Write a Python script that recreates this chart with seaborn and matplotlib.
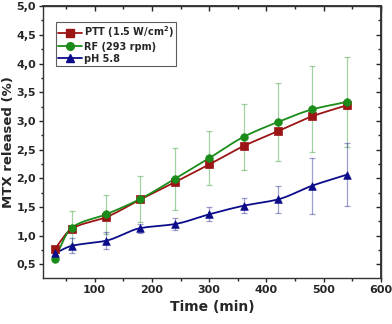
import numpy as np
import pandas as pd
import matplotlib
matplotlib.use("Agg")
import matplotlib.pyplot as plt
import seaborn as sns
from matplotlib.ticker import MultipleLocator, FuncFormatter

time = [30, 60, 120, 180, 240, 300, 360, 420, 480, 540]
ptt = [0.76, 1.12, 1.32, 1.63, 1.93, 2.24, 2.56, 2.82, 3.08, 3.27]
ptt_err = [0.04, 0.04, 0.05, 0.05, 0.05, 0.05, 0.05, 0.05, 0.05, 0.06]
rf = [0.59, 1.14, 1.37, 1.64, 1.99, 2.35, 2.72, 2.98, 3.20, 3.33]
rf_err = [0.03, 0.28, 0.34, 0.40, 0.54, 0.47, 0.58, 0.68, 0.75, 0.79]
ph = [0.69, 0.82, 0.91, 1.13, 1.20, 1.37, 1.52, 1.63, 1.87, 2.06]
ph_err = [0.05, 0.13, 0.15, 0.08, 0.10, 0.12, 0.13, 0.24, 0.49, 0.55]
labels = ["PTT (1.5 W/cm$^2$)", "RF (293 rpm)", "pH 5.8"]

sns.set_theme(style="ticks")
plt.rcParams['font.family'] = ['DejaVu Sans']
plt.rcParams['font.weight'] = 'bold'

fig = plt.figure(figsize=(3.92, 3.24), dpi=100)
ax = fig.add_axes([0.110, 0.142, 0.862, 0.839])

series = [
    (ptt, ptt_err, labels[0], "#9b1515", "s"),
    (rf, rf_err, labels[1], "#1a8c1a", "o"),
    (ph, ph_err, labels[2], "#0c0c8a", "^"),
]

def smooth(x, y):
    x = np.asarray(x, float); y = np.asarray(y, float)
    m = np.zeros_like(y)
    d = np.diff(y) / np.diff(x)
    m[0] = d[0]; m[-1] = d[-1]
    for i in range(1, len(x) - 1):
        if d[i-1] * d[i] <= 0:
            m[i] = 0
        else:
            w1 = 2 * (x[i+1] - x[i]) + (x[i] - x[i-1])
            w2 = (x[i+1] - x[i]) + 2 * (x[i] - x[i-1])
            m[i] = (w1 + w2) / (w1 / d[i-1] + w2 / d[i])
    xs, ys = [], []
    for i in range(len(x) - 1):
        h = x[i+1] - x[i]
        t = np.linspace(0, 1, 30, endpoint=(i == len(x) - 2))
        h00 = 2*t**3 - 3*t**2 + 1; h10 = t**3 - 2*t**2 + t
        h01 = -2*t**3 + 3*t**2; h11 = t**3 - t**2
        xs.append(x[i] + t*h)
        ys.append(h00*y[i] + h10*h*m[i] + h01*y[i+1] + h11*h*m[i+1])
    return np.concatenate(xs), np.concatenate(ys)

for vals, err, lab, col, mk in series:
    ax.errorbar(time, vals, yerr=err, fmt="none", ecolor=col, alpha=0.4,
                elinewidth=0.9, capsize=2.5, capthick=0.9, zorder=2)
    xs, ys = smooth(time, vals)
    sns.lineplot(x=xs, y=ys, ax=ax, color=col, linewidth=1.3, zorder=3, legend=False)
    sns.scatterplot(x=time, y=vals, ax=ax, color=col, marker=mk, s=30,
                    edgecolor=col, linewidth=0.5, zorder=4, legend=False)
    ax.plot([], [], color=col, marker=mk, markersize=5.5, linewidth=1.3, label=lab)

ax.set_xlim(10, 600)
ax.set_ylim(0.26, 5.0)
ax.xaxis.set_major_locator(MultipleLocator(100))
ax.xaxis.set_minor_locator(MultipleLocator(50))
ax.yaxis.set_major_locator(MultipleLocator(0.5))
ax.yaxis.set_minor_locator(MultipleLocator(0.25))
ax.xaxis.set_major_formatter(FuncFormatter(lambda v, p: f"{int(v)}"))
ax.yaxis.set_major_formatter(FuncFormatter(lambda v, p: f"{v:.1f}".replace(".", ",")))

ax.tick_params(axis="both", which="major", direction="out", length=3, width=1,
               labelsize=8, pad=2, top=False, right=False)
ax.tick_params(axis="both", which="minor", direction="out", length=1.8, width=1,
               top=False, right=False)
ax2 = ax.secondary_xaxis("top")
ax2.xaxis.set_major_locator(MultipleLocator(100))
ax2.xaxis.set_minor_locator(MultipleLocator(50))
ax2.tick_params(which="major", direction="in", length=3.5, width=1, labeltop=False)
ax2.tick_params(which="minor", direction="in", length=2, width=1)
ax3 = ax.secondary_yaxis("right")
ax3.yaxis.set_major_locator(MultipleLocator(0.5))
ax3.yaxis.set_minor_locator(MultipleLocator(0.25))
ax3.tick_params(which="major", direction="in", length=3.5, width=1, labelright=False)
ax3.tick_params(which="minor", direction="in", length=2, width=1)

for lab in ax.get_xticklabels() + ax.get_yticklabels():
    lab.set_fontweight("bold")

for sp in ax.spines.values():
    sp.set_linewidth(1.0)
    sp.set_color("#333333")

ax.set_xlabel("Time (min)", fontsize=10, fontweight="bold", labelpad=4)
ax.set_ylabel("MTX released (%)", fontsize=9.5, fontweight="bold", labelpad=1)

leg = ax.legend(loc="upper left", bbox_to_anchor=(0.032, 0.95), fontsize=7,
                frameon=True, fancybox=False, edgecolor="#333333",
                handlelength=2.4, borderpad=0.25, labelspacing=0.2, handletextpad=0.2,
                borderaxespad=0.2)
leg.get_frame().set_linewidth(0.8)
for t in leg.get_texts():
    t.set_fontweight("bold")

fig.savefig("out.png", dpi=100)
